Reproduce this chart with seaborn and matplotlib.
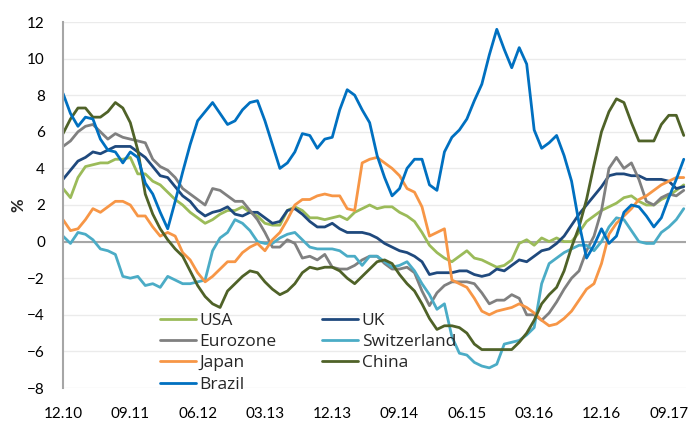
import pandas as pd
import matplotlib
matplotlib.use("Agg")
import matplotlib.pyplot as plt
import seaborn as sns

# monthly inflation, 12.10 .. 11.17 (84 months)
usa = [2.9, 2.4, 3.5, 4.1, 4.2, 4.3, 4.3, 4.5, 4.5, 4.6,
       3.7, 3.7, 3.3, 3.1, 2.7, 2.3, 2.0, 1.6, 1.3, 1.0,
       1.2, 1.5, 1.7, 1.7, 1.9, 1.6, 1.4, 1.0, 0.9, 0.9,
       1.7, 1.9, 1.7, 1.3, 1.3, 1.2, 1.3, 1.4, 1.2, 1.6,
       1.8, 2.0, 1.8, 1.9, 1.9, 1.6, 1.4, 1.1, 0.5, -0.2,
       -0.6, -0.9, -1.1, -0.8, -0.5, -0.9, -1.0, -1.2, -1.4, -1.3,
       -1.0, -0.1, 0.1, -0.2, 0.2, 0.0, 0.2, 0.0, 0.0, 0.5,
       1.1, 1.4, 1.7, 1.9, 2.1, 2.4, 2.5, 2.2, 2.0, 2.0,
       2.3, 2.5, 2.8, 3.1]
uk = [3.4, 3.9, 4.4, 4.6, 4.9, 4.8, 5.0, 5.2, 5.2, 5.2,
      4.9, 4.6, 4.1, 3.6, 3.5, 3.0, 2.5, 2.2, 1.7, 1.4,
      1.6, 1.7, 1.9, 1.5, 1.4, 1.6, 1.6, 1.3, 1.0, 1.1,
      1.7, 1.8, 1.5, 1.1, 0.8, 0.8, 1.0, 0.7, 0.5, 0.5,
      0.5, 0.4, 0.2, -0.1, -0.3, -0.5, -0.6, -0.8, -1.1, -1.8,
      -1.7, -1.7, -1.7, -1.6, -1.6, -1.8, -1.9, -1.8, -1.5, -1.6,
      -1.3, -1.0, -1.1, -0.8, -0.5, -0.4, -0.1, 0.3, 0.9, 1.5,
      2.0, 2.5, 3.0, 3.6, 3.7, 3.7, 3.6, 3.6, 3.4, 3.4,
      3.4, 3.3, 2.9, 3.0]
eurozone = [5.2, 5.5, 6.0, 6.3, 6.4, 6.0, 5.6, 5.9, 5.7, 5.6,
            5.5, 5.4, 4.5, 4.1, 3.9, 3.5, 2.9, 2.6, 2.3, 2.0,
            2.9, 2.8, 2.5, 2.2, 2.2, 1.7, 1.2, 0.5, -0.3, -0.3,
            0.1, -0.1, -0.9, -0.8, -1.0, -0.7, -1.4, -1.5, -1.5, -1.3,
            -1.0, -0.8, -0.8, -1.2, -1.5, -1.5, -1.4, -1.7, -2.7, -3.5,
            -2.8, -2.4, -2.2, -2.2, -2.2, -2.3, -2.8, -3.4, -3.2, -3.2,
            -2.9, -3.1, -4.0, -4.0, -4.3, -3.9, -3.3, -2.6, -2.0, -1.6,
            -0.5, 0.3, 1.7, 4.0, 4.6, 4.0, 4.3, 3.4, 2.2, 2.0,
            2.4, 2.6, 2.5, 2.8]
switzerland = [0.3, -0.1, 0.5, 0.4, 0.1, -0.4, -0.5, -0.7, -1.9, -2.0,
               -1.9, -2.4, -2.3, -2.5, -1.9, -2.1, -2.3, -2.3, -2.2, -2.1,
               -0.5, 0.2, 0.5, 1.2, 1.0, 0.6, 0.0, -0.1, -0.1, 0.2,
               0.4, 0.5, 0.1, -0.3, -0.4, -0.4, -0.4, -0.5, -0.8, -0.8,
               -1.3, -0.8, -0.8, -1.1, -1.4, -1.3, -1.1, -1.6, -2.3, -2.9,
               -3.7, -3.4, -5.2, -6.1, -6.2, -6.6, -6.8, -6.9, -6.7, -5.6,
               -5.5, -5.4, -5.1, -4.7, -2.3, -1.2, -0.9, -0.6, -0.4, -0.2,
               -0.2, -0.5, 0.0, 0.8, 1.3, 1.2, 0.6, 0.0, -0.1, -0.1,
               0.5, 0.8, 1.2, 1.8]
japan = [1.2, 0.6, 0.7, 1.2, 1.8, 1.6, 1.9, 2.2, 2.2, 2.0,
         1.4, 1.4, 0.8, 0.3, 0.5, 0.3, -0.6, -1.0, -1.7, -2.2,
         -1.9, -1.5, -1.1, -1.1, -0.6, -0.3, -0.1, -0.5, 0.1, 0.5,
         1.2, 2.0, 2.3, 2.3, 2.5, 2.6, 2.5, 2.5, 1.8, 1.7,
         4.3, 4.5, 4.6, 4.3, 4.0, 3.6, 2.9, 2.7, 1.9, 0.3,
         0.5, 0.7, -2.1, -2.3, -2.5, -3.1, -3.8, -4.0, -3.8, -3.7,
         -3.6, -3.4, -3.6, -3.9, -4.3, -4.6, -4.5, -4.2, -3.8, -3.2,
         -2.6, -2.3, -1.2, 0.4, 1.0, 1.4, 1.8, 2.3, 2.5, 2.8,
         3.1, 3.3, 3.5, 3.5]
china = [5.9, 6.7, 7.3, 7.3, 6.8, 6.8, 7.1, 7.6, 7.3, 6.5,
         5.0, 2.6, 1.5, 0.7, 0.1, -0.4, -0.8, -1.6, -2.4, -3.0,
         -3.4, -3.6, -2.7, -2.3, -1.9, -1.6, -1.7, -2.2, -2.6, -2.9,
         -2.7, -2.3, -1.7, -1.4, -1.5, -1.4, -1.4, -1.6, -2.0, -2.3,
         -1.9, -1.5, -1.1, -1.0, -1.2, -1.8, -2.3, -2.7, -3.4, -4.2,
         -4.8, -4.6, -4.6, -4.7, -5.0, -5.6, -5.9, -5.9, -5.9, -5.9,
         -5.9, -5.5, -5.0, -4.3, -3.4, -2.9, -2.5, -1.6, -0.3, 0.8,
         2.3, 4.2, 6.0, 7.1, 7.8, 7.6, 6.5, 5.5, 5.5, 5.5,
         6.4, 6.9, 6.9, 5.8]
brazil = [8.1, 7.0, 6.3, 6.8, 6.7, 5.6, 5.0, 4.9, 4.3, 4.9,
          4.6, 3.2, 2.6, 1.6, 0.7, 2.2, 3.8, 5.3, 6.6, 7.1,
          7.6, 7.0, 6.4, 6.6, 7.2, 7.6, 7.7, 6.6, 5.3, 4.0,
          4.3, 4.9, 5.9, 5.8, 5.1, 5.6, 5.7, 7.2, 8.3, 8.0,
          7.2, 6.5, 4.7, 3.5, 2.5, 2.9, 4.0, 4.5, 4.5, 3.1,
          2.8, 4.9, 5.7, 6.1, 6.7, 7.7, 8.6, 10.2, 11.6, 10.5,
          9.5, 10.6, 9.7, 6.1, 5.1, 5.4, 5.8, 4.7, 3.3, 1.0,
          -0.9, -0.2, 0.7, -0.1, 0.3, 1.6, 2.0, 1.9, 1.4, 0.8,
          1.3, 2.4, 3.4, 4.5]

tick_labels = ["12.10", "09.11", "06.12", "03.13", "12.13",
               "09.14", "06.15", "03.16", "12.16", "09.17"]

series = {
    "USA": (usa, "#9BBB59"),
    "UK": (uk, "#1F497D"),
    "Eurozone": (eurozone, "#808080"),
    "Switzerland": (switzerland, "#4BACC6"),
    "Japan": (japan, "#F79646"),
    "China": (china, "#4F6228"),
    "Brazil": (brazil, "#0070C0"),
}

sns.set_style("white")
plt.rcParams["font.family"] = ["Lato", "DejaVu Sans"]

fig = plt.figure(figsize=(6.94, 4.22), dpi=100)
ax = fig.add_axes([63 / 694, 34 / 422, 623 / 694, 366 / 422])

# grid + zero line
for v in range(-8, 13, 2):
    ax.axhline(v, color="#EBEBEB", lw=1, zorder=0)
ax.axhline(0, color="#A6A6A6", lw=1.5, zorder=1)

for name, (vals, col) in series.items():
    df = pd.DataFrame({"m": range(len(vals)), "v": vals})
    sns.lineplot(data=df, x="m", y="v", color=col, lw=2.0, ax=ax, label=name)
handles = dict(zip(*ax.get_legend_handles_labels()[::-1]))

ax.set_xlim(0, 83.3)
ax.set_ylim(-8, 12)
ax.set_yticks(range(-8, 13, 2))
ax.set_xticks(range(0, 82, 9))
ax.set_xticklabels(tick_labels)
ax.tick_params(axis="both", length=0, labelsize=11, colors="black")
ax.tick_params(axis="y", pad=13)
ax.tick_params(axis="x", pad=14)

for s in ["top", "right", "bottom"]:
    ax.spines[s].set_visible(False)
ax.spines["left"].set_color("#A6A6A6")
ax.spines["left"].set_linewidth(1.5)

ax.set_xlabel("")
ax.set_ylabel("%", fontsize=12, fontweight="bold", rotation=90)
ax.yaxis.set_label_coords(-0.058, 0.5)

order = ["USA", "Eurozone", "Japan", "Brazil", "UK", "Switzerland", "China"]
ax.legend([handles[o] for o in order], order, ncol=2, frameon=False,
          loc="upper left", bbox_to_anchor=(0.144, 0.225),
          prop={"family": "Open Sans", "size": 12.5},
          handlelength=2.1, labelspacing=0.3, columnspacing=2.6,
          handletextpad=0.2, borderaxespad=0)

fig.savefig("out.png", dpi=100)
